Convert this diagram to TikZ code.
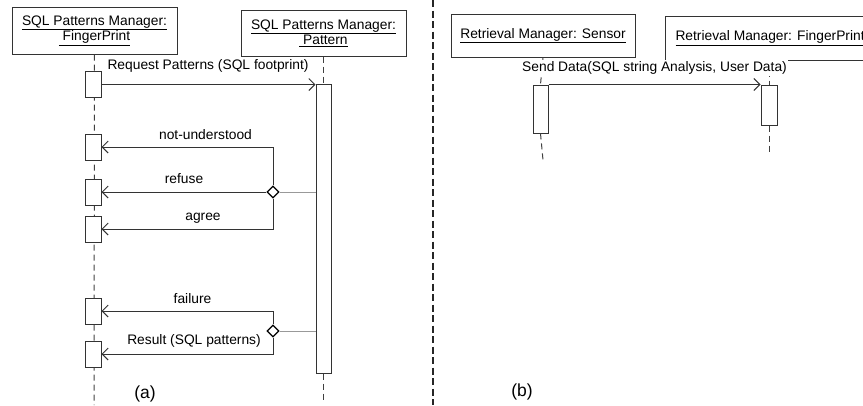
\documentclass[tikz,border=0pt]{standalone}
\usepackage{fontspec}
\setmainfont{Liberation Sans}
\usetikzlibrary{arrows.meta,shapes.geometric}
\begin{document}
\begin{tikzpicture}[x=1pt,y=-1pt,
    every node/.style={font=\fontsize{13.8}{15.5}\selectfont},
    obj/.style={draw=black!80, line width=1pt, align=center, inner sep=0pt},
    act/.style={draw=black!80, fill=white, line width=1pt, inner sep=0pt, minimum width=16},
    life/.style={draw=black!75, line width=1pt, dash pattern=on 6pt off 4pt},
    msg/.style={draw=black!80, line width=1pt, -{Straight Barb[length=6pt,width=12pt]}},
    choice/.style={diamond, draw=black, fill=white, line width=1.2pt, inner sep=0pt, minimum size=12},
    link/.style={draw=black!40, line width=0.7pt},
    lbl/.style={inner sep=1pt},
    subcap/.style={font=\fontsize{17.5}{20}\selectfont}]
  \clip (0,0) rectangle (863,405);
  % (a) sequence
  \node[obj, minimum width=165, minimum height=47] (fp) at (94.5,30.5)
    {\underline{SQL Patterns Manager:}\\\underline{ FingerPrint}};
  \node[obj, minimum width=165, minimum height=46] (pt) at (323.5,33)
    {\underline{SQL Patterns Manager:}\\\underline{ Pattern}};
  \coordinate (bot1) at (94,405);
  \coordinate (bot2) at (323.5,402);
  \node[act, minimum height=289, minimum width=15] (pbar) at (323.5,228.5) {};
  \draw[life] (fp.south) -- (bot1);
  \draw[life] (pt.south) -- (pbar.north);
  \draw[life] (pbar.south) -- (bot2);
  \node[act, minimum height=26] (a1) at (93,84.5) {};
  \node[act, minimum height=26] (a2) at (93,147) {};
  \node[act, minimum height=26] (a3) at (93,192) {};
  \node[act, minimum height=26] (a4) at (93,229) {};
  \node[act, minimum height=26] (a5) at (93,311) {};
  \node[act, minimum height=26] (a6) at (93,354) {};
  \draw[msg] (a1.east) -- (a1.east -| pbar.west);
  \node[lbl] (lreq) at (208,66) {Request Patterns (SQL footprint)};
  \node[choice] (d1) at (273,192) {};
  \draw[link] (d1.east) -- (d1.east -| pbar.west);
  \draw[msg] (d1.north) |- (a2.east);
  \draw[msg] (d1.west) -- (a3.east);
  \draw[msg] (d1.south) |- (a4.east);
  \node[lbl] (lnu) at (205.5,135) {not-understood};
  \node[lbl] (lre) at (184,179) {refuse};
  \node[lbl] (lag) at (203,218) {agree};
  \node[choice] (d2) at (273,331) {};
  \draw[link] (d2.east) -- (d2.east -| pbar.west);
  \draw[msg] (d2.north) |- (a5.east);
  \draw[msg] (d2.south) |- (a6.east);
  \node[lbl] (lfa) at (192.5,299) {failure};
  \node[lbl] (lres) at (194,341) {Result (SQL patterns)};
  \node[subcap] (capa) at (145,394) {(a)};
  % divider
  \coordinate (top) at (433,0);
  \coordinate (bottom) at (433,405);
  \draw[draw=black!85, line width=1.4pt, dash pattern=on 7pt off 3.5pt] (top) -- (bottom);
  % (b) sequence
  \node[obj, minimum width=184, minimum height=43] (sen) at (543,35.5)
    {\underline{Retrieval Manager: Sensor}};
  \node[obj, anchor=west, minimum height=44, inner xsep=10pt] (rfp) at (665,38)
    {\underline{Retrieval Manager: FingerPrint}};
  \coordinate (bot3) at (543,160);
  \coordinate (bot4) at (769,152);
  \node[act, minimum height=48, minimum width=15] (s1) at (540.5,109) {};
  \node[act, minimum height=40] (f1) at (769,105) {};
  \draw[life] (sen.south) -- (s1.north);
  \draw[life] (s1.south) -- (bot3);
  \draw[life] (rfp.south -| f1) -- (f1.north);
  \draw[life] (f1.south) -- (bot4);
  \node[lbl, fill=white, inner ysep=2pt] (lsd) at (654.5,68) {Send Data(SQL string Analysis, User Data)};
  \draw[msg] (s1.north east) -- (f1.north west);
  \node[subcap] (capb) at (522,392) {(b)};
\end{tikzpicture}
\end{document}
